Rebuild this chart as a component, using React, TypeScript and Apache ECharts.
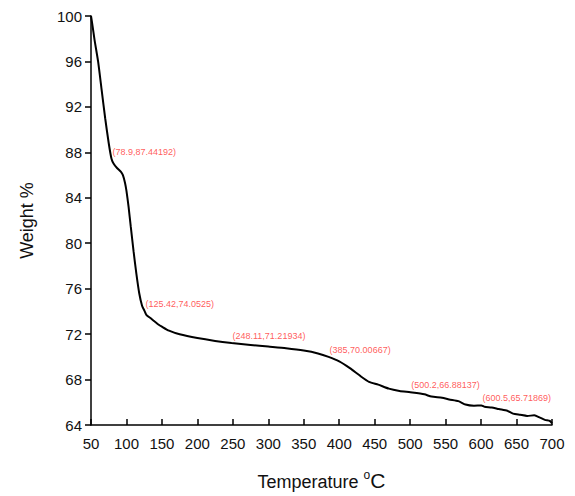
import React, { useEffect, useRef } from "react";
import * as echarts from "echarts";

const temperature = [
  50, 52, 55, 60, 65, 70, 75, 78.9, 82, 87, 92, 95, 98, 100, 103, 106, 110, 114, 118, 122,
  125.42, 128, 135, 145, 150, 160, 175, 200, 225, 248.11, 275, 300, 325, 350, 370, 385,
  400, 415, 430, 442, 455, 470, 485, 500.2, 520, 530, 545, 555, 568, 578, 590, 600.5,
  605, 615, 625, 637, 645, 655, 665, 675, 683, 690, 697, 700,
];
const weight = [
  100, 99.2, 97.9, 96.0, 93.5, 91.0, 88.8, 87.44, 87.0, 86.6, 86.3, 86.0, 85.3, 84.6, 83.2, 81.5, 79.3, 77.3, 75.6, 74.5,
  74.05, 73.7, 73.35, 72.85, 72.65, 72.3, 71.98, 71.65, 71.4, 71.22, 71.05, 70.9, 70.75, 70.55, 70.3, 70.0,
  69.6, 69.0, 68.3, 67.8, 67.55, 67.2, 67.0, 66.88, 66.7, 66.5, 66.4, 66.25, 66.1, 65.8, 65.7, 65.72,
  65.6, 65.55, 65.4, 65.25, 65.0, 64.9, 64.8, 64.85, 64.65, 64.45, 64.35, 64.15,
];

const annoX = [78.9, 125.42, 248.11, 385, 500.2, 600.5];
const annoY = [87.44192, 74.0525, 71.21934, 70.00667, 66.88137, 65.71869];

const yTicks = [64, 68, 72, 76, 80, 84, 88, 92, 96, 100];

export default function App() {
  const ref = useRef<HTMLDivElement>(null);
  useEffect(() => {
    document.body.style.margin = "0";
    const chart = echarts.init(ref.current!, null, { renderer: "svg" });
    const font = "Arial, 'Liberation Sans', sans-serif";
    chart.setOption({
      animation: false,
      backgroundColor: "#fff",
      grid: { left: 91, right: 23, top: 16, bottom: 71, outerBoundsMode: "none" },
      xAxis: {
        type: "value",
        min: 50,
        max: 700,
        interval: 50,
        axisLine: { show: true, lineStyle: { color: "#000", width: 1.5 } },
        axisTick: { show: true, inside: true, length: 6, lineStyle: { color: "#000", width: 1.5 } },
        axisLabel: { color: "#111", fontSize: 15, fontFamily: font, margin: 11 },
        splitLine: { show: false },
        name: "{t|Temperature }{s|o}{c|C}",
        nameLocation: "middle",
        nameGap: 44,
        nameTextStyle: {
          rich: {
            t: { fontSize: 18, fontFamily: font, color: "#111", verticalAlign: "bottom", lineHeight: 22 },
            s: { fontSize: 12, fontFamily: font, color: "#111", verticalAlign: "top", lineHeight: 22 },
            c: { fontSize: 21, fontFamily: font, color: "#111", verticalAlign: "bottom", lineHeight: 22 },
          },
        },
      },
      yAxis: {
        type: "value",
        min: 64,
        max: 100,
        interval: 4,
        axisLine: { show: true, lineStyle: { color: "#000", width: 1.5 } },
        axisTick: { show: true, inside: false, length: 6, lineStyle: { color: "#000", width: 1.5 } },
        axisLabel: {
          color: "#111",
          fontSize: 15,
          fontFamily: font,
          margin: 9,
          customValues: yTicks,
        },
        splitLine: { show: false },
        name: "Weight %",
        nameLocation: "middle",
        nameGap: 55,
        nameTextStyle: { fontSize: 18, fontFamily: font, color: "#111" },
      },
      series: [
        {
          type: "line",
          data: temperature.map((t, i) => [t, weight[i]]),
          showSymbol: false,
          smooth: 0.2,
          lineStyle: { color: "#000", width: 2 },
          z: 2,
        },
        {
          type: "scatter",
          data: annoX.map((t, i) => [t, annoY[i]]),
          symbolSize: 0,
          itemStyle: { color: "transparent" },
          label: {
            show: true,
            position: "right",
            distance: 1,
            offset: [0, -7],
            fontSize: 9,
            fontFamily: font,
            color: "#ff3030",
            formatter: (p: any) => `(${annoX[p.dataIndex]},${annoY[p.dataIndex]})`,
          },
          z: 3,
        },
      ],
    });
    return () => chart.dispose();
  }, []);
  return <div ref={ref} style={{ width: 575, height: 496 }} />;
}
